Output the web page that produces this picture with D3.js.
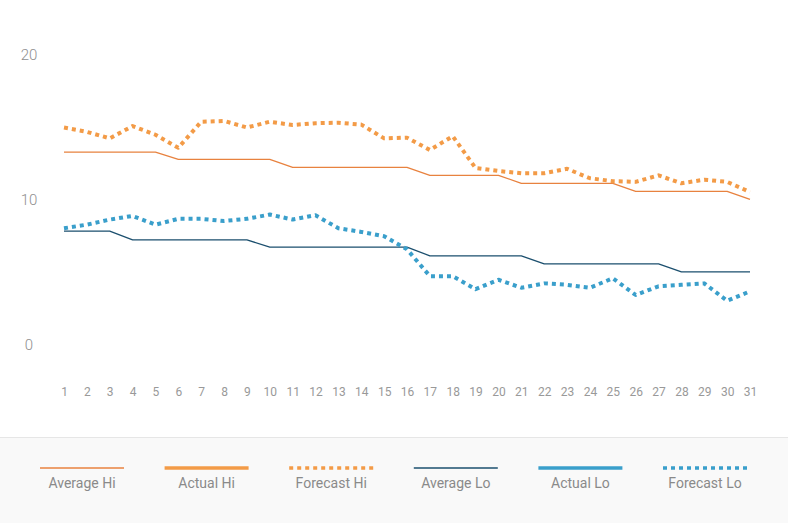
<!DOCTYPE html>
<html><head><meta charset="utf-8">
<script src="https://cdn.jsdelivr.net/npm/d3@7"></script>
<style>
html,body{margin:0;padding:0;background:#fff;}
svg{display:block;font-family:"Roboto","Open Sans",sans-serif;}
</style></head>
<body><svg id="c" width="788" height="523"></svg>
<script>
const days = d3.range(1, 32);
const yTicks = [0, 10, 20];
const averageHi = [13.3,13.3,13.3,13.3,13.3,12.8,12.8,12.8,12.8,12.8,12.25,12.25,12.25,12.25,12.25,12.25,11.7,11.7,11.7,11.7,11.15,11.15,11.15,11.15,11.15,10.6,10.6,10.6,10.6,10.6,10.05];
const actualHi = [];
const forecastHi = [15.0,14.7,14.25,15.1,14.5,13.6,15.4,15.45,15.0,15.4,15.17,15.3,15.33,15.2,14.25,14.3,13.45,14.4,12.2,12.0,11.85,11.85,12.15,11.5,11.3,11.25,11.7,11.15,11.4,11.25,10.55];
const averageLo = [7.85,7.85,7.85,7.25,7.25,7.25,7.25,7.25,7.25,6.75,6.75,6.75,6.75,6.75,6.75,6.75,6.15,6.15,6.15,6.15,6.15,5.6,5.6,5.6,5.6,5.6,5.6,5.05,5.05,5.05,5.05];
const actualLo = [];
const forecastLo = [8.05,8.3,8.65,8.9,8.3,8.7,8.7,8.55,8.7,9.0,8.65,8.95,8.05,7.8,7.5,6.6,4.75,4.75,3.85,4.5,3.95,4.25,4.15,3.95,4.6,3.45,4.05,4.15,4.25,3.05,3.7];
const seriesNames = ["Average Hi","Actual Hi","Forecast Hi","Average Lo","Actual Lo","Forecast Lo"];

const styles = {
  "Average Hi": {color:"#e8823f", width:1.3, dash:null},
  "Actual Hi": {color:"#f39b47", width:4, dash:null},
  "Forecast Hi": {color:"#f39b47", width:4, dash:"4,4"},
  "Average Lo": {color:"#1b4f6e", width:1.3, dash:null},
  "Actual Lo": {color:"#3a9fcb", width:4, dash:null},
  "Forecast Lo": {color:"#3a9fcb", width:4, dash:"4,4"}
};
const data = {
  "Average Hi": averageHi, "Actual Hi": actualHi, "Forecast Hi": forecastHi,
  "Average Lo": averageLo, "Actual Lo": actualLo, "Forecast Lo": forecastLo
};

const svg = d3.select("#c");
const x = d3.scaleLinear().domain([1, 31]).range([64, 750]);
const y = d3.scaleLinear().domain([0, 20]).range([345, 55]);

// y labels
svg.append("g").selectAll("text").data(yTicks).join("text")
  .attr("x", 29).attr("y", d => y(d)).attr("dy", "0.36em")
  .attr("text-anchor", "middle").attr("fill", "#8f8f8f").attr("font-weight", 300)
  .attr("font-size", 15).text(d => d);

// x axis labels
const xAxis = d3.axisBottom(x).tickValues(days).tickSize(0).tickPadding(0).tickFormat(d3.format("d"));
const gx = svg.append("g").attr("transform", "translate(0,392)").call(xAxis);
gx.select(".domain").remove();
gx.selectAll("text").attr("fill", "#999").attr("font-size", 12).attr("font-family", "Roboto, sans-serif")
  .attr("y", 0).attr("dy", "0.35em");

const line = d3.line().x((d,i) => x(days[i])).y(d => y(d)).curve(d3.curveLinear);
const order = ["Average Hi","Average Lo","Actual Hi","Actual Lo","Forecast Hi","Forecast Lo"];
order.forEach(n => {
  const vals = data[n];
  if (!vals.length) return;
  const s = styles[n];
  svg.append("path").datum(vals).attr("d", line)
    .attr("fill", "none").attr("stroke", s.color).attr("stroke-width", s.width)
    .attr("stroke-dasharray", s.dash).attr("stroke-linejoin", "round");
});

// legend
svg.append("rect").attr("x", 0).attr("y", 437).attr("width", 788).attr("height", 86).attr("fill", "#f9f9f9");
svg.append("line").attr("x1", 0).attr("x2", 788).attr("y1", 437.5).attr("y2", 437.5).attr("stroke", "#e6e6e6");
const lx = d3.scalePoint().domain(seriesNames).range([82, 705]);
const lg = svg.append("g").selectAll("g").data(seriesNames).join("g")
  .attr("transform", d => `translate(${lx(d)},0)`);
lg.append("line").attr("x1", -42).attr("x2", 42).attr("y1", 468).attr("y2", 468)
  .attr("stroke", d => styles[d].color)
  .attr("stroke-width", d => styles[d].width === 4 ? 3.5 : 1.3)
  .attr("stroke-dasharray", d => styles[d].dash);
lg.append("text").attr("x", 0).attr("y", 488).attr("text-anchor", "middle")
  .attr("fill", "#8a8a8a").attr("font-size", 14).text(d => d);
</script></body></html>
